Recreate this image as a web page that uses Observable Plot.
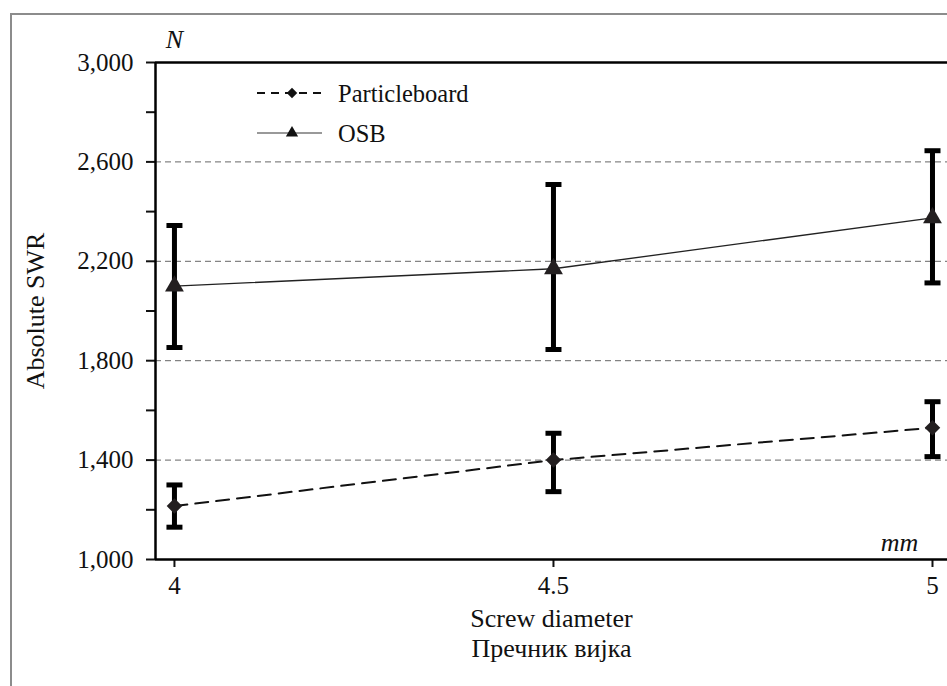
<!DOCTYPE html>
<html>
<head>
<meta charset="utf-8">
<script src="https://cdn.jsdelivr.net/npm/d3@7"></script>
<script src="https://cdn.jsdelivr.net/npm/@observablehq/plot@0.6"></script>
<style>
  html, body { margin: 0; padding: 0; background: #fff; overflow: hidden; }
  #wrap { position: relative; width: 947px; height: 686px; overflow: hidden; }
  #border { position: absolute; left: 10px; top: 13px; width: 2000px; height: 2000px;
            border-left: 2px solid #8c8c8c; border-top: 2px solid #8c8c8c; }
  #chart { position: absolute; left: 0; top: 0; }
  #legend { position: absolute; left: 0; top: 0; pointer-events: none; }
  svg text { font-family: 'Liberation Serif', 'DejaVu Serif', serif !important; }
</style>
</head>
<body>
<div id="wrap">
  <div id="border"></div>
  <div id="chart"></div>
  <svg id="legend" width="947" height="686"></svg>
</div>
<script>
// ---- data ----
const diameters = [4, 4.5, 5];
const osbMean = [2100, 2170, 2375];
const osbLow  = [1853, 1845, 2113];
const osbHigh = [2344, 2509, 2645];
const pbMean  = [1215, 1400, 1530];
const pbLow   = [1130, 1273, 1414];
const pbHigh  = [1300, 1508, 1635];
const yMajorTicks = [1000, 1400, 1800, 2200, 2600, 3000];
const yMinorTicks = [1200, 1600, 2000, 2400, 2800];
const yGridTicks  = [1400, 1800, 2200, 2600];
const xTicks = [4, 4.5, 5];
const xDomain = [3.975, 5.0198];
const yDomain = [1000, 3000];
const seriesNames = ["Particleboard", "OSB"];
const yLabel = "Absolute SWR";
const xLabel1 = "Screw diameter";
const xLabel2 = "Пречник вијка";

const osb = diameters.map((x, i) => ({x, mean: osbMean[i], lo: osbLow[i], hi: osbHigh[i]}));
const pb  = diameters.map((x, i) => ({x, mean: pbMean[i], lo: pbLow[i], hi: pbHigh[i]}));

const cap = { draw(ctx) { ctx.moveTo(-8, 0); ctx.lineTo(8, 0); } };
const font = "'Liberation Serif', 'DejaVu Serif', serif";

const chart = Plot.plot({
  width: 947, height: 686,
  marginTop: 62, marginLeft: 155, marginRight: 0, marginBottom: 127,
  x: {domain: xDomain},
  y: {domain: yDomain},
  style: {fontFamily: font, fontSize: "25px", color: "#111", background: "transparent", overflow: "visible"},
  marks: [
    Plot.ruleY(yGridTicks, {stroke: "#666", strokeWidth: 1, strokeDasharray: "6,4"}),
    Plot.axisY({ticks: yMajorTicks, tickFormat: d3.format(","), tickSize: 9, tickPadding: 13, strokeWidth: 2, fontSize: 25, label: null}),
    Plot.axisY({ticks: yMinorTicks, tickFormat: () => "", tickSize: 9, strokeWidth: 2, label: null}),
    Plot.axisX({ticks: xTicks, tickFormat: d => String(d), tickSize: 8, tickPadding: 9, strokeWidth: 2, fontSize: 25, label: null}),
    Plot.ruleY(yDomain, {stroke: "#000", strokeWidth: 2.5}),
    Plot.ruleX([xDomain[0]], {stroke: "#000", strokeWidth: 2.5}),
    Plot.line(pb, {x: "x", y: "mean", stroke: "#111", strokeWidth: 2, strokeDasharray: "13,8"}),
    Plot.line(osb, {x: "x", y: "mean", stroke: "#222", strokeWidth: 1.3}),
    Plot.ruleX(osb, {x: "x", y1: "lo", y2: "hi", stroke: "#000", strokeWidth: 5}),
    Plot.ruleX(pb, {x: "x", y1: "lo", y2: "hi", stroke: "#000", strokeWidth: 5}),
    Plot.dot(osb, {x: "x", y: "lo", symbol: cap, stroke: "#000", strokeWidth: 5}),
    Plot.dot(osb, {x: "x", y: "hi", symbol: cap, stroke: "#000", strokeWidth: 5}),
    Plot.dot(pb, {x: "x", y: "lo", symbol: cap, stroke: "#000", strokeWidth: 5}),
    Plot.dot(pb, {x: "x", y: "hi", symbol: cap, stroke: "#000", strokeWidth: 5}),
    Plot.dot(osb, {x: "x", y: "mean", symbol: "triangle", r: 7, fill: "#231f20", stroke: "none"}),
    Plot.dot(pb, {x: "x", y: "mean", symbol: "diamond2", r: 7, fill: "#231f20", stroke: "none"}),
    Plot.text([yLabel], {frameAnchor: "left", rotate: -90, dx: -120, textAnchor: "middle", lineAnchor: "middle", fontSize: 26}),
    Plot.text([xLabel1], {frameAnchor: "bottom", dy: 59, textAnchor: "middle", lineAnchor: "middle", fontSize: 26}),
    Plot.text([xLabel2], {frameAnchor: "bottom", dy: 89, textAnchor: "middle", lineAnchor: "middle", fontSize: 26}),
    Plot.text(["N"], {frameAnchor: "top-left", dx: 19, dy: -23, textAnchor: "middle", lineAnchor: "middle", fontStyle: "italic", fontSize: 26}),
    Plot.text(["mm"], {frameAnchor: "bottom-right", dx: -48, dy: -17, textAnchor: "middle", lineAnchor: "middle", fontStyle: "italic", fontSize: 26})
  ]
});
document.getElementById("chart").appendChild(chart);

// ---- legend ----
const lg = d3.select("#legend");
const rows = [
  {name: seriesNames[0], y: 93, dash: "8,6", stroke: "#111", sw: 2, sym: d3.symbolDiamond2, size: 70},
  {name: seriesNames[1], y: 133, dash: null, stroke: "#777", sw: 1.5, sym: d3.symbolTriangle, size: 65}
];
rows.forEach(r => {
  lg.append("line").attr("x1", 257).attr("x2", 322).attr("y1", r.y).attr("y2", r.y)
    .attr("stroke", r.stroke).attr("stroke-width", r.sw)
    .attr("stroke-dasharray", r.dash);
  lg.append("path").attr("d", d3.symbol(r.sym, r.size)())
    .attr("transform", `translate(292,${r.y})`).attr("fill", "#111");
  lg.append("text").attr("x", 338).attr("y", r.y).attr("dy", "0.35em")
    .attr("font-size", 24.5).attr("fill", "#111").text(r.name);
});
</script>
</body>
</html>
